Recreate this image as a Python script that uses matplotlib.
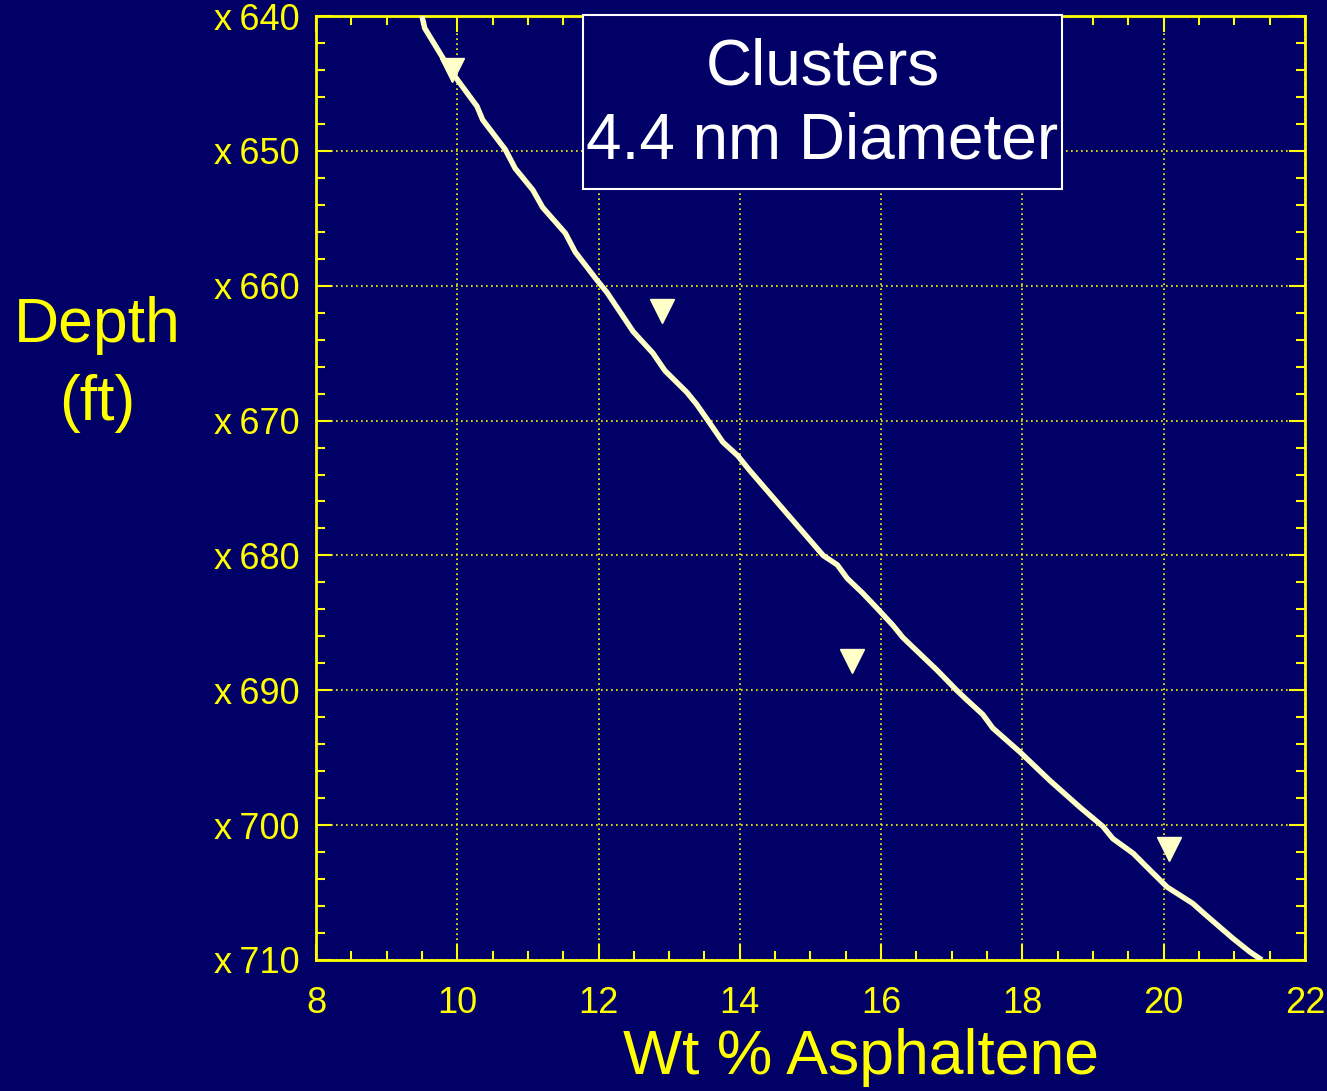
import numpy as np
import matplotlib.pyplot as plt
from matplotlib.ticker import MultipleLocator
from matplotlib.patches import Rectangle

# data
curve_wt = [9.50, 9.54, 9.90, 10.28, 10.36, 10.68, 10.82, 11.07, 11.21, 11.53, 11.67,
            11.98, 12.12, 12.35, 12.49, 12.77, 12.94, 13.25, 13.39, 13.55, 13.76, 13.97,
            14.14, 14.75, 15.18, 15.38, 15.52, 15.74, 15.94, 16.17, 16.31, 16.65, 16.79,
            17.07, 17.19, 17.44, 17.58, 17.97, 18.39, 18.82, 19.14, 19.28, 19.57, 19.76,
            20.05, 20.41, 20.56, 20.98, 21.22, 21.39]
curve_depth = [640.0, 640.9, 644.0, 646.7, 647.7, 649.9, 651.3, 652.9, 654.2, 656.1, 657.5,
               659.6, 660.5, 662.3, 663.4, 665.0, 666.3, 667.9, 668.8, 670.0, 671.6, 672.6,
               673.7, 677.4, 680.0, 680.7, 681.7, 682.8, 683.9, 685.2, 686.1, 687.8, 688.5,
               690.0, 690.6, 691.8, 692.8, 694.6, 696.7, 698.7, 700.1, 701.0, 702.1, 703.1,
               704.6, 705.8, 706.5, 708.4, 709.4, 710.0]
meas_wt = [9.93, 12.90, 15.59, 20.08]
meas_depth = [644.0, 661.9, 687.8, 701.75]

xticks = [8, 10, 12, 14, 16, 18, 20, 22]
yticks = [640, 650, 660, 670, 680, 690, 700, 710]
ytick_labels = ["x\u2009640", "x\u2009650", "x\u2009660", "x\u2009670",
                "x\u2009680", "x\u2009690", "x\u2009700", "x\u2009710"]

navy = "#000066"
yel = "#FFFF00"
cream = "#FFFFC8"

plt.rcParams['font.family'] = ['Liberation Sans', 'DejaVu Sans']

fig = plt.figure(figsize=(13.27, 10.91), dpi=100, facecolor=navy)
ax = fig.add_axes([0.2381, 0.1201, 0.7453, 0.8652])
ax.set_facecolor(navy)

ax.plot(curve_wt, curve_depth, color=cream, lw=3.9, solid_joinstyle='round',
        solid_capstyle='butt', zorder=3)
ax.plot(meas_wt, meas_depth, linestyle='none', marker='v', markersize=17,
        color=cream, markeredgecolor=cream, zorder=4)

ax.set_xlim(8, 22)
ax.set_ylim(710, 640)
ax.set_xticks(xticks)
ax.set_yticks(yticks)
ax.set_yticklabels(ytick_labels)
ax.xaxis.set_minor_locator(MultipleLocator(0.5))
ax.yaxis.set_minor_locator(MultipleLocator(2))

ax.grid(True, which='major', color=yel, linestyle=(0, (1, 2)), lw=1.2)
for s in ax.spines.values():
    s.set_color(yel)
    s.set_linewidth(2)
ax.tick_params(which='both', direction='in', colors=yel, top=True, right=True,
               labelsize=26)
ax.tick_params(which='major', length=11.5, width=1.5)
ax.tick_params(which='minor', length=6.5, width=1.5)
ax.tick_params(axis='x', pad=19)
ax.tick_params(axis='y', pad=12)

fig.text(0.649, 0.031, "Wt % Asphaltene", color=yel, fontsize=45, ha='center', va='center')
fig.text(0.0731, 0.7015, "Depth", color=yel, fontsize=45, ha='center', va='center')
fig.text(0.0731, 0.6306, "(ft)", color=yel, fontsize=45, ha='center', va='center')

# title box
ax.add_patch(Rectangle((0.27, 0.8167), 0.4843, 0.1845, transform=ax.transAxes,
                       facecolor=navy, edgecolor='white', lw=1.5, zorder=5, clip_on=False))
ax.text(0.512, 1 - (67 - 16) / 944, "Clusters", transform=ax.transAxes, color='white',
        fontsize=46, ha='center', va='center', zorder=6)
ax.text(0.512, 1 - (141 - 16) / 944, "4.4 nm Diameter", transform=ax.transAxes,
        color='white', fontsize=46, ha='center', va='center', zorder=6)

fig.savefig("out.png", dpi=100, facecolor=navy)
